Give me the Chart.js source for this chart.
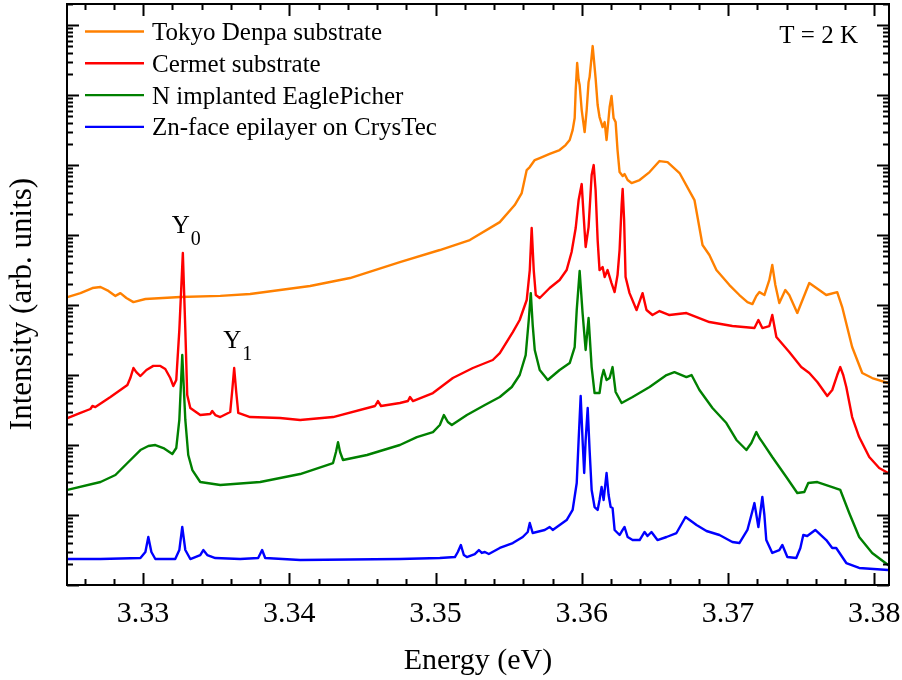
<!DOCTYPE html>
<html lang="en">
<head>
<meta charset="UTF-8">
<title>Low temperature PL spectra</title>
<script src="https://cdn.jsdelivr.net/npm/chart.js"></script>
<style>
  body { margin: 0; background: #fff; }
  #wrap { width: 902px; height: 680px; }
</style>
</head>
<body>
<div id="wrap"><canvas id="plChart" width="902" height="680"></canvas></div>
<script>
// photon energy (eV) and PL intensity (arb. units), one pair of arrays per sample
const tokyoEnergy = [
  3.32483, 3.32572, 3.32654, 3.32709, 3.32763, 3.32811, 3.32845, 3.32886, 3.32934, 3.33016,
  3.33255, 3.33528, 3.33732, 3.33937, 3.34142, 3.34415, 3.34756, 3.35029, 3.35234, 3.35439,
  3.35541, 3.35589, 3.35623, 3.35644, 3.35678, 3.35712, 3.35780, 3.35848, 3.35889, 3.35917,
  3.35937, 3.35951, 3.35958, 3.35968, 3.35978, 3.35985, 3.35999, 3.36019, 3.36033, 3.36046,
  3.36053, 3.36074, 3.36094, 3.36108, 3.36121, 3.36142, 3.36156, 3.36169, 3.36190, 3.36203,
  3.36217, 3.36231, 3.36244, 3.36258, 3.36279, 3.36292, 3.36313, 3.36340, 3.36395, 3.36463,
  3.36531, 3.36586, 3.36668, 3.36770, 3.36825, 3.36872, 3.36920, 3.37009, 3.37077, 3.37132,
  3.37166, 3.37193, 3.37214, 3.37248, 3.37282, 3.37302, 3.37323, 3.37350, 3.37391, 3.37418,
  3.37473, 3.37514, 3.37555, 3.37623, 3.37671, 3.37746, 3.37780, 3.37848, 3.37917, 3.37985,
  3.38094
];
const tokyoIntensity = [
  1.30e4, 1.48e4, 1.75e4, 1.81e4, 1.59e4, 1.35e4, 1.48e4, 1.26e4, 1.10e4, 1.22e4,
  1.30e4, 1.35e4, 1.44e4, 1.64e4, 1.87e4, 2.43e4, 4.11e4, 6.11e4, 8.48e4, 1.53e5,
  2.68e5, 3.98e5, 8.48e5, 9.36e5, 1.18e6, 1.26e6, 1.44e6, 1.64e6, 1.93e6, 2.28e6,
  3.16e6, 4.69e6, 1.18e7, 2.87e7, 1.64e7, 1.39e7, 6.11e6, 2.96e6, 6.11e6, 1.53e7,
  1.81e7, 5.01e7, 1.75e7, 7.20e6, 4.85e6, 3.49e6, 4.11e6, 2.28e6, 6.74e6, 9.68e6,
  4.69e6, 4.11e6, 1.64e6, 7.94e5, 6.96e5, 7.44e5, 6.11e5, 5.53e5, 6.11e5, 7.94e5,
  1.14e6, 1.10e6, 7.69e5, 3.16e5, 7.20e4, 5.18e4, 3.16e4, 1.93e4, 1.39e4, 1.10e4,
  1.03e4, 1.35e4, 1.53e4, 1.39e4, 2.28e4, 3.73e4, 1.93e4, 1.07e4, 1.64e4, 1.39e4,
  7.69e3, 1.26e4, 2.06e4, 1.64e4, 1.39e4, 1.53e4, 9.36e3, 2.51e3, 1.07e3, 9.06e2,
  7.69e2
];

const cermetEnergy = [
  3.32483, 3.32572, 3.32640, 3.32654, 3.32674, 3.32777, 3.32893, 3.32913, 3.32934, 3.32954,
  3.32982, 3.33023, 3.33070, 3.33118, 3.33152, 3.33186, 3.33207, 3.33227, 3.33248, 3.33272,
  3.33289, 3.33302, 3.33323, 3.33391, 3.33459, 3.33473, 3.33494, 3.33528, 3.33596, 3.33610,
  3.33623, 3.33637, 3.33651, 3.33732, 3.33937, 3.34074, 3.34299, 3.34586, 3.34606, 3.34627,
  3.34756, 3.34811, 3.34825, 3.34845, 3.34982, 3.35118, 3.35255, 3.35391, 3.35439, 3.35528,
  3.35575, 3.35623, 3.35644, 3.35657, 3.35671, 3.35685, 3.35712, 3.35780, 3.35848, 3.35896,
  3.35930, 3.35958, 3.35978, 3.35999, 3.36012, 3.36026, 3.36046, 3.36067, 3.36081, 3.36094,
  3.36108, 3.36121, 3.36142, 3.36156, 3.36176, 3.36203, 3.36224, 3.36244, 3.36258, 3.36272,
  3.36279, 3.36289, 3.36299, 3.36326, 3.36374, 3.36415, 3.36442, 3.36483, 3.36531, 3.36599,
  3.36715, 3.36872, 3.37029, 3.37180, 3.37207, 3.37234, 3.37282, 3.37302, 3.37330, 3.37418,
  3.37500, 3.37555, 3.37610, 3.37678, 3.37712, 3.37746, 3.37767, 3.37787, 3.37808, 3.37848,
  3.37896, 3.37965, 3.38033, 3.38094
];
const cermetIntensity = [
  2.43e2, 2.87e2, 3.27e2, 3.61e2, 3.49e2, 4.85e2, 7.20e2, 9.06e2, 1.26e3, 1.10e3,
  9.68e2, 1.18e3, 1.35e3, 1.35e3, 1.22e3, 9.06e2, 6.96e2, 8.48e2, 4.39e3, 5.53e4,
  4.39e3, 5.18e2, 3.38e2, 2.68e2, 2.77e2, 3.06e2, 2.68e2, 2.51e2, 2.96e2, 6.11e2,
  1.26e3, 5.72e2, 2.87e2, 2.51e2, 2.43e2, 2.28e2, 2.51e2, 3.61e2, 4.25e2, 3.61e2,
  3.98e2, 4.25e2, 4.85e2, 4.25e2, 5.53e2, 9.06e2, 1.26e3, 1.64e3, 2.06e3, 4.11e3,
  6.11e3, 1.18e4, 3.16e4, 1.26e5, 3.16e4, 1.39e4, 1.26e4, 1.75e4, 2.28e4, 3.16e4,
  5.72e4, 1.26e5, 3.16e5, 5.35e5, 1.93e5, 6.74e4, 1.30e5, 7.20e5, 1.00e6, 4.39e5,
  8.48e4, 3.16e4, 3.49e4, 2.51e4, 3.16e4, 2.06e4, 1.53e4, 2.68e4, 6.11e4, 2.68e5,
  4.54e5, 1.64e5, 2.51e4, 1.48e4, 8.48e3, 1.48e4, 8.48e3, 7.20e3, 8.21e3, 7.20e3,
  7.69e3, 5.72e3, 5.01e3, 4.69e3, 6.11e3, 4.69e3, 5.01e3, 7.20e3, 3.49e3, 2.13e3,
  1.30e3, 1.07e3, 7.94e2, 5.01e2, 6.11e2, 1.00e3, 1.30e3, 1.00e3, 6.74e2, 2.51e2,
  1.30e2, 67.4, 46.9, 39.8
];

const eagleEnergy = [
  3.32483, 3.32709, 3.32811, 3.32893, 3.32982, 3.33036, 3.33084, 3.33139, 3.33200, 3.33227,
  3.33248, 3.33268, 3.33289, 3.33309, 3.33337, 3.33391, 3.33528, 3.33801, 3.34074, 3.34299,
  3.34319, 3.34333, 3.34347, 3.34367, 3.34531, 3.34756, 3.34872, 3.34982, 3.35029, 3.35057,
  3.35084, 3.35111, 3.35214, 3.35337, 3.35439, 3.35521, 3.35575, 3.35616, 3.35637, 3.35651,
  3.35664, 3.35678, 3.35712, 3.35767, 3.35848, 3.35917, 3.35951, 3.35965, 3.35985, 3.36005,
  3.36026, 3.36046, 3.36067, 3.36087, 3.36121, 3.36135, 3.36149, 3.36169, 3.36190, 3.36210,
  3.36231, 3.36272, 3.36347, 3.36463, 3.36579, 3.36633, 3.36715, 3.36750, 3.36804, 3.36893,
  3.36988, 3.37057, 3.37125, 3.37159, 3.37193, 3.37214, 3.37234, 3.37302, 3.37398, 3.37473,
  3.37521, 3.37548, 3.37610, 3.37712, 3.37767, 3.37828, 3.37896, 3.37985, 3.38094
];
const eagleIntensity = [
  22.8, 29.6, 37.3, 55.3, 84.8, 96.8, 1.00e2, 90.6, 74.4, 90.6,
  2.28e2, 1.93e3, 2.28e2, 72.0, 43.9, 29.6, 26.8, 29.6, 38.5, 55.3,
  79.4, 1.10e2, 79.4, 61.1, 72.0, 1.00e2, 1.30e2, 1.53e2, 1.93e2, 2.68e2,
  2.13e2, 1.93e2, 2.68e2, 3.73e2, 4.85e2, 6.74e2, 1.00e3, 1.93e3, 6.11e3, 1.48e4,
  5.18e3, 2.28e3, 1.18e3, 8.48e2, 1.18e3, 1.48e3, 2.51e3, 8.48e3, 3.06e4, 7.69e3,
  2.28e3, 6.52e3, 1.30e3, 5.53e2, 5.53e2, 9.06e2, 1.18e3, 8.48e2, 9.06e2, 1.30e3,
  5.72e2, 3.98e2, 4.85e2, 6.74e2, 1.00e3, 1.10e3, 9.36e2, 1.00e3, 6.11e2, 3.38e2,
  2.06e2, 1.18e2, 84.8, 1.07e2, 1.53e2, 1.26e2, 1.10e2, 67.4, 34.9, 20.6,
  21.3, 28.7, 29.6, 25.1, 22.8, 10.7, 4.85, 2.87, 1.93
];

const crystecEnergy = [
  3.32483, 3.32709, 3.32982, 3.33016, 3.33036, 3.33057, 3.33084, 3.33220, 3.33248, 3.33268,
  3.33289, 3.33323, 3.33391, 3.33412, 3.33439, 3.33494, 3.33664, 3.33787, 3.33814, 3.33835,
  3.34074, 3.34756, 3.35029, 3.35132, 3.35152, 3.35173, 3.35193, 3.35214, 3.35268, 3.35296,
  3.35316, 3.35337, 3.35364, 3.35439, 3.35528, 3.35596, 3.35630, 3.35644, 3.35664, 3.35746,
  3.35780, 3.35801, 3.35896, 3.35937, 3.35965, 3.35978, 3.35992, 3.36005, 3.36016, 3.36026,
  3.36040, 3.36053, 3.36067, 3.36087, 3.36108, 3.36121, 3.36135, 3.36149, 3.36169, 3.36183,
  3.36197, 3.36210, 3.36224, 3.36258, 3.36279, 3.36292, 3.36313, 3.36347, 3.36395, 3.36429,
  3.36449, 3.36476, 3.36517, 3.36579, 3.36647, 3.36709, 3.36784, 3.36852, 3.36941, 3.37029,
  3.37077, 3.37132, 3.37159, 3.37180, 3.37207, 3.37234, 3.37248, 3.37261, 3.37302, 3.37350,
  3.37371, 3.37405, 3.37466, 3.37494, 3.37514, 3.37541, 3.37596, 3.37671, 3.37712, 3.37739,
  3.37808, 3.37896, 3.38094
];
const crystecIntensity = [
  2.35, 2.35, 2.43, 2.96, 4.85, 2.96, 2.35, 2.35, 3.16, 6.74,
  3.16, 2.35, 2.68, 3.16, 2.68, 2.43, 2.35, 2.43, 3.16, 2.43,
  2.28, 2.35, 2.43, 2.51, 2.96, 3.73, 2.68, 2.51, 2.77, 3.16,
  2.87, 2.96, 2.77, 3.38, 3.98, 4.85, 5.72, 7.69, 5.53, 6.11,
  6.74, 6.11, 8.48, 11.8, 28.7, 1.18e2, 5.01e2, 1.18e2, 39.8, 1.18e2,
  3.38e2, 84.8, 22.8, 13.0, 11.8, 16.4, 25.1, 16.4, 39.8, 19.3,
  13.0, 12.6, 6.11, 5.18, 6.11, 6.74, 4.85, 4.39, 4.39, 5.72,
  5.01, 5.72, 4.39, 4.85, 5.53, 9.36, 7.20, 5.91, 5.18, 4.11,
  3.98, 6.11, 10.0, 14.8, 6.74, 18.1, 10.0, 4.39, 2.87, 3.16,
  3.73, 2.51, 2.43, 3.38, 5.18, 5.01, 6.11, 4.39, 3.38, 3.38,
  2.06, 1.75, 1.64
];

const sampleLabels = [
  'Tokyo Denpa substrate',
  'Cermet substrate',
  'N implanted EaglePicher',
  'Zn-face epilayer on CrysTec'
];
const sampleColors = ['#ff8000', '#ff0000', '#008000', '#0000ff'];

// axis ranges and tick values
const energyMin = 3.3248;
const energyMax = 3.3810;
const energyTicks = [3.33, 3.34, 3.35, 3.36, 3.37, 3.38];
const energyMinorStep = 0.002;
const intensityMin = 1;
const intensityMax = 2e8;

// the two bound exciton lines that get a label
const y0Energy = 3.33272, y0Intensity = 5.53e4;
const y1Energy = 3.33623, y1Intensity = 1.26e3;

const SERIF = '"Liberation Serif", "Times New Roman", serif';

function toPoints(energy, intensity) {
    return energy.map((e, i) => ({ x: e, y: intensity[i] }));
}

// box frame with inward ticks on all four sides, axis text, legend and labels
const framePlugin = {
    id: 'frame',
    afterDatasetsDraw(chart) {
        const { ctx, chartArea: a, scales: { x, y } } = chart;
        ctx.save();
        ctx.strokeStyle = '#000';
        ctx.lineWidth = 2;
        ctx.strokeRect(a.left, a.top, a.right - a.left, a.bottom - a.top);

        ctx.beginPath();
        const first = Math.ceil(energyMin / energyMinorStep - 1e-6);
        const last = Math.floor(energyMax / energyMinorStep + 1e-6);
        for (let i = first; i <= last; i++) {
            const px = Math.round(x.getPixelForValue(i * energyMinorStep)) + 0.5;
            const len = i % 5 === 0 ? 12 : 6;
            ctx.moveTo(px, a.bottom);
            ctx.lineTo(px, a.bottom - len);
            ctx.moveTo(px, a.top);
            ctx.lineTo(px, a.top + len);
        }
        for (let n = 0; n <= 8; n++) {
            for (let k = 1; k <= 9; k++) {
                const v = k * Math.pow(10, n);
                if (v > intensityMax) continue;
                const py = Math.round(y.getPixelForValue(v)) + 0.5;
                const len = k === 1 ? 12 : 6;
                ctx.moveTo(a.left, py);
                ctx.lineTo(a.left + len, py);
                ctx.moveTo(a.right, py);
                ctx.lineTo(a.right - len, py);
            }
        }
        ctx.stroke();

        ctx.fillStyle = '#000';
        ctx.font = '30px ' + SERIF;
        ctx.textAlign = 'center';
        ctx.textBaseline = 'alphabetic';
        energyTicks.forEach(t => {
            ctx.fillText(t.toFixed(2), x.getPixelForValue(t), 622);
        });
        ctx.fillText('Energy (eV)', (a.left + a.right) / 2, 669);

        ctx.save();
        ctx.translate(31, 304);
        ctx.rotate(-Math.PI / 2);
        ctx.font = '31px ' + SERIF;
        ctx.fillText('Intensity (arb. units)', 0, 0);
        ctx.restore();

        // legend
        ctx.font = '25px ' + SERIF;
        ctx.textAlign = 'left';
        chart.data.datasets.forEach((ds, i) => {
            const ly = 31.5 + i * 31.8;
            ctx.strokeStyle = ds.borderColor;
            ctx.lineWidth = 2.4;
            ctx.beginPath();
            ctx.moveTo(85, ly);
            ctx.lineTo(144, ly);
            ctx.stroke();
            ctx.fillText(ds.label, 152, ly + 8.5);
        });

        ctx.textAlign = 'right';
        ctx.fillText('T = 2 K', 858, 43);

        // Y0 / Y1 peak labels
        ctx.textAlign = 'left';
        const peaks = [['0', y0Energy, y0Intensity], ['1', y1Energy, y1Intensity]];
        peaks.forEach(([sub, e, inten]) => {
            const px = x.getPixelForValue(e) - 11;
            const py = y.getPixelForValue(inten) - 20;
            ctx.font = '25px ' + SERIF;
            ctx.fillText('Y', px, py);
            ctx.font = '20px ' + SERIF;
            ctx.fillText(sub, px + 19, py + 12);
        });
        ctx.restore();
    }
};

new Chart(document.getElementById('plChart'), {
    type: 'line',
    data: {
        datasets: [
            { label: sampleLabels[0], data: toPoints(tokyoEnergy, tokyoIntensity), borderColor: sampleColors[0], order: 4 },
            { label: sampleLabels[1], data: toPoints(cermetEnergy, cermetIntensity), borderColor: sampleColors[1], order: 3 },
            { label: sampleLabels[2], data: toPoints(eagleEnergy, eagleIntensity), borderColor: sampleColors[2], order: 2 },
            { label: sampleLabels[3], data: toPoints(crystecEnergy, crystecIntensity), borderColor: sampleColors[3], order: 1 }
        ]
    },
    options: {
        responsive: false,
        animation: false,
        devicePixelRatio: 1,
        layout: { padding: { left: 67, right: 13, top: 4, bottom: 95 } },
        elements: {
            line: { borderWidth: 2.4, tension: 0, borderJoinStyle: 'round', borderCapStyle: 'round' },
            point: { radius: 0 }
        },
        plugins: {
            legend: { display: false },
            tooltip: { enabled: false }
        },
        scales: {
            x: { type: 'linear', min: energyMin, max: energyMax, display: false },
            y: { type: 'logarithmic', min: intensityMin, max: intensityMax, display: false }
        }
    },
    plugins: [framePlugin]
});
</script>
</body>
</html>
